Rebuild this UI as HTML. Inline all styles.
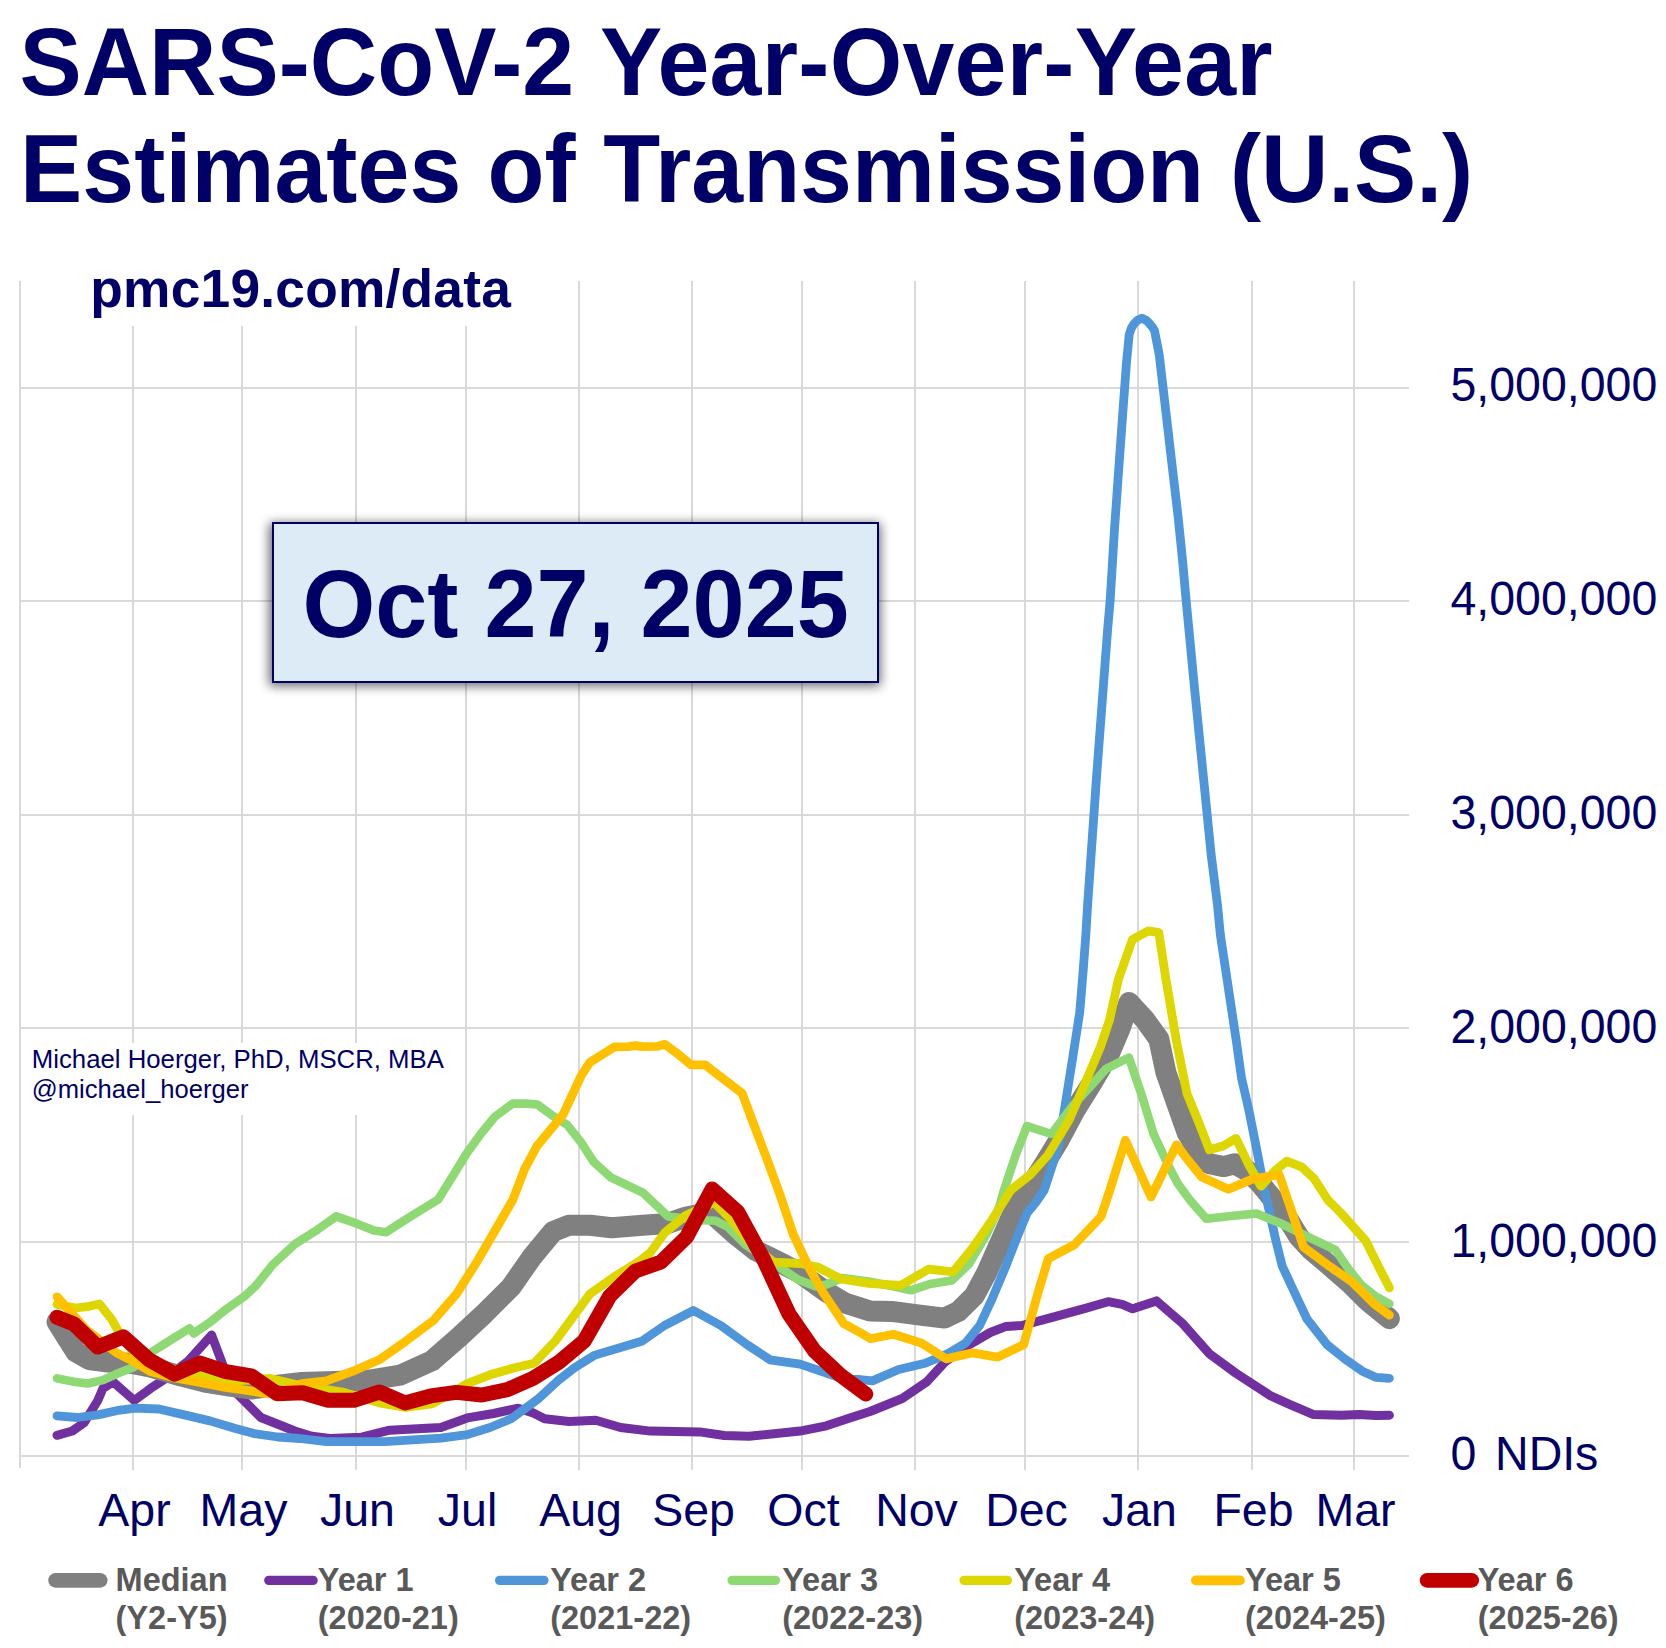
<!DOCTYPE html>
<html lang="en"><head><meta charset="utf-8"><title>SARS-CoV-2 Year-Over-Year Estimates of Transmission (U.S.)</title>
<style>
html,body{margin:0;padding:0;background:#fff;}
body{width:1666px;height:1648px;overflow:hidden;font-family:"Liberation Sans",sans-serif;}
svg{display:block;}
text{font-family:"Liberation Sans",sans-serif;}
.b{font-weight:bold;}
.nv{fill:#000066;}
.lg{fill:#595959;font-weight:bold;font-size:32.5px;}
</style></head><body>
<svg width="1666" height="1648" viewBox="0 0 1666 1648">
<defs><filter id="sh" x="-10%" y="-20%" width="120%" height="140%"><feGaussianBlur stdDeviation="5.5"/></filter></defs>
<rect width="1666" height="1648" fill="#fff"/>

<g stroke="#D9D9D9" stroke-width="2" fill="none">
<line x1="20.0" y1="281" x2="20.0" y2="1468"/>
<line x1="133.0" y1="281" x2="133.0" y2="1470"/>
<line x1="242.0" y1="281" x2="242.0" y2="1470"/>
<line x1="356.0" y1="281" x2="356.0" y2="1470"/>
<line x1="466.0" y1="281" x2="466.0" y2="1470"/>
<line x1="579.0" y1="281" x2="579.0" y2="1470"/>
<line x1="692.0" y1="281" x2="692.0" y2="1470"/>
<line x1="802.0" y1="281" x2="802.0" y2="1470"/>
<line x1="915.0" y1="281" x2="915.0" y2="1470"/>
<line x1="1025.0" y1="281" x2="1025.0" y2="1470"/>
<line x1="1138.0" y1="281" x2="1138.0" y2="1470"/>
<line x1="1252.0" y1="281" x2="1252.0" y2="1470"/>
<line x1="1354.0" y1="281" x2="1354.0" y2="1470"/>
<line x1="19" y1="388.0" x2="1409" y2="388.0"/>
<line x1="19" y1="601.0" x2="1409" y2="601.0"/>
<line x1="19" y1="815.0" x2="1409" y2="815.0"/>
<line x1="19" y1="1028.0" x2="1409" y2="1028.0"/>
<line x1="19" y1="1242.0" x2="1409" y2="1242.0"/>
<line x1="19" y1="1456.0" x2="1409" y2="1456.0"/>
</g>
<rect x="85" y="245" width="440" height="81" fill="#fff"/>
<rect x="25" y="1043" width="425" height="72" fill="#fff"/>
<text class="b nv" transform="translate(19.5,94.8) scale(1,1.025)" font-size="93.3">SARS-CoV-2 <tspan letter-spacing="0.26">Year-Over-Year</tspan></text>
<text class="b nv" transform="translate(20,202.1) scale(1,1.025)" font-size="93.3"><tspan letter-spacing="0.07">Estimates of </tspan><tspan dx="1.7" letter-spacing="-0.06">Transmission (U.S.)</tspan></text>
<text class="b nv" x="90.3" y="306.5" font-size="53.3" letter-spacing="0.22">pmc19.com/data</text>
<text class="nv" x="31.8" y="1067.8" font-size="25.75">Michael Hoerger, PhD, MSCR, MBA</text>
<text class="nv" x="31.8" y="1097.8" font-size="25.6">@michael_hoerger</text>
<polyline fill="none" stroke="#7030A0" stroke-width="9.0" stroke-linejoin="round" stroke-linecap="round" points="57.0,1435.3 72.3,1431.0 84.2,1422.6 97.8,1400.5 102.9,1388.6 113.1,1381.8 134.3,1400.5 150.4,1388.6 165.7,1378.4 187.8,1361.4 211.6,1335.1 223.5,1366.5 235.4,1392.0 260.9,1417.5 277.9,1424.3 294.8,1431.0 311.8,1436.2 330.0,1438.5 361.6,1437.2 389.7,1430.2 440.8,1427.5 467.2,1417.9 493.6,1413.5 518.2,1408.2 532.3,1412.6 544.6,1418.8 569.2,1421.4 595.8,1420.2 620.5,1427.5 650.4,1431.1 699.7,1431.9 724.3,1435.5 748.9,1436.3 800.0,1431.1 826.4,1425.8 847.5,1418.8 870.0,1411.5 902.2,1398.5 926.9,1381.8 944.5,1362.4 969.1,1344.8 990.2,1332.5 1006.0,1326.4 1021.9,1325.5 1044.8,1319.3 1083.5,1308.8 1108.1,1301.7 1122.2,1304.4 1132.7,1308.8 1156.4,1300.9 1182.8,1323.7 1209.2,1353.6 1235.6,1373.0 1270.8,1395.9 1288.4,1403.8 1313.0,1414.4 1341.2,1415.2 1358.8,1414.4 1376.3,1415.6 1389.4,1415.2"/>
<polyline fill="none" stroke="#808080" stroke-width="21" stroke-linejoin="round" stroke-linecap="round" points="57.0,1322.0 67.0,1338.0 76.0,1352.0 89.0,1359.5 108.0,1362.0 132.0,1363.5 150.0,1367.0 175.6,1374.5 208.0,1382.7 229.6,1386.0 252.0,1389.0 280.0,1385.0 300.0,1382.6 335.0,1381.5 370.0,1380.0 400.0,1375.2 432.0,1360.7 458.4,1337.8 484.8,1313.2 511.2,1286.8 532.0,1257.0 553.1,1231.5 568.9,1225.2 590.0,1225.2 611.7,1227.8 642.8,1225.2 667.5,1223.5 685.6,1217.3 710.2,1212.0 734.8,1234.0 756.0,1250.7 780.8,1263.0 800.0,1273.0 826.4,1292.0 845.0,1303.0 870.0,1311.0 891.7,1311.4 918.0,1314.9 944.5,1318.1 958.5,1311.4 974.4,1295.6 986.7,1272.7 1000.8,1241.0 1013.1,1212.9 1025.4,1193.5 1044.5,1164.0 1058.5,1141.1 1074.4,1111.2 1092.0,1083.0 1109.6,1053.1 1120.1,1028.5 1128.9,1002.5 1144.8,1019.7 1158.8,1039.0 1165.9,1072.4 1176.4,1102.4 1187.0,1132.3 1201.1,1156.9 1208.5,1163.5 1223.8,1166.6 1234.8,1163.8 1247.6,1171.0 1259.5,1182.9 1272.0,1198.0 1285.0,1214.3 1299.0,1237.0 1311.0,1250.0 1323.6,1260.4 1350.0,1283.3 1367.6,1300.9 1389.4,1318.7"/>
<polyline fill="none" stroke="#4E95D9" stroke-width="8.8" stroke-linejoin="round" stroke-linecap="round" points="57.0,1415.8 77.4,1417.5 97.8,1414.9 116.5,1410.7 135.1,1408.1 158.9,1409.0 184.4,1414.9 209.9,1420.9 235.4,1428.5 254.1,1433.6 277.9,1437.0 300.0,1438.5 326.4,1441.6 384.5,1441.6 440.8,1438.1 467.2,1434.6 490.0,1427.5 511.2,1418.8 537.5,1399.4 558.7,1380.0 574.5,1367.7 594.1,1355.4 641.6,1341.3 664.5,1325.5 693.5,1310.5 720.8,1325.5 747.2,1344.8 770.0,1359.8 800.0,1364.2 826.4,1373.0 843.9,1379.2 860.0,1379.5 872.3,1380.9 898.7,1369.5 925.1,1363.3 948.0,1353.6 965.6,1343.1 979.7,1325.5 992.0,1299.1 1006.0,1265.7 1018.4,1234.0 1027.2,1212.9 1036.0,1202.3 1044.3,1190.0 1058.5,1146.3 1065.6,1102.4 1072.6,1058.4 1079.7,1012.6 1083.2,970.4 1085.8,935.2 1087.6,905.0 1096.4,778.9 1107.7,628.5 1110.2,600.0 1114.6,527.6 1119.1,463.8 1122.8,412.9 1126.4,363.7 1129.2,334.6 1131.2,328.5 1133.7,324.3 1137.5,320.3 1141.9,318.2 1146.5,320.5 1150.1,324.3 1152.8,327.5 1154.6,331.0 1159.2,354.6 1165.6,409.2 1171.9,463.8 1178.3,518.5 1182.9,564.0 1186.1,600.0 1194.2,684.9 1203.6,778.9 1211.1,854.1 1217.5,905.0 1220.4,935.2 1225.7,970.4 1231.0,1005.6 1236.3,1040.8 1241.5,1078.0 1248.9,1110.3 1256.5,1148.3 1264.1,1188.0 1271.2,1220.0 1276.0,1241.0 1282.2,1266.0 1294.5,1292.5 1307.0,1319.0 1327.1,1344.8 1344.7,1358.9 1362.3,1371.2 1376.3,1377.4 1389.4,1378.3"/>
<polyline fill="none" stroke="#8ED973" stroke-width="8.6" stroke-linejoin="round" stroke-linecap="round" points="57.0,1378.4 74.0,1381.8 87.6,1383.5 102.9,1380.1 118.2,1373.3 133.4,1367.3 150.4,1352.9 169.1,1341.0 189.5,1328.3 193.8,1333.4 209.9,1322.3 226.9,1308.7 243.9,1296.8 255.8,1285.8 272.8,1264.6 294.8,1244.2 317.6,1229.6 336.1,1216.4 356.3,1223.4 373.9,1230.5 386.2,1232.2 409.1,1217.3 438.0,1199.7 452.8,1176.0 466.9,1153.1 480.9,1133.7 495.0,1116.6 512.6,1103.6 527.0,1103.6 537.3,1104.5 551.3,1114.8 567.2,1124.9 581.2,1142.5 593.6,1161.9 611.2,1177.7 642.8,1192.7 656.9,1205.9 668.0,1216.4 684.0,1218.2 703.3,1220.3 715.7,1220.8 728.0,1227.0 745.6,1244.6 772.0,1262.2 798.4,1279.8 816.0,1286.5 826.4,1284.5 842.4,1278.0 868.7,1281.5 895.1,1286.8 911.0,1290.3 930.0,1284.0 951.5,1280.6 969.1,1263.9 986.7,1234.0 999.0,1207.6 1004.0,1190.0 1016.3,1153.4 1026.9,1126.1 1051.5,1134.0 1072.6,1105.9 1090.2,1086.5 1106.0,1068.9 1128.9,1057.5 1141.2,1093.6 1153.6,1134.0 1167.6,1164.0 1177.6,1183.2 1189.7,1199.8 1206.4,1218.8 1233.7,1215.8 1256.5,1213.5 1282.3,1224.1 1306.5,1236.2 1335.4,1249.9 1349.0,1269.6 1361.1,1284.8 1376.3,1296.9 1389.4,1303.8"/>
<polyline fill="none" stroke="#DDD600" stroke-width="8.8" stroke-linejoin="round" stroke-linecap="round" points="57.0,1304.4 75.7,1308.0 89.3,1306.3 99.5,1304.0 111.4,1318.9 119.9,1334.0 133.0,1352.0 150.0,1362.0 175.0,1370.0 201.4,1375.8 227.0,1381.0 250.0,1380.0 269.4,1378.4 294.8,1384.3 320.0,1388.6 344.0,1392.4 379.2,1402.9 405.6,1407.3 432.0,1403.8 449.6,1394.1 467.2,1383.6 490.0,1374.8 514.7,1367.7 534.0,1363.3 555.1,1341.3 574.5,1314.9 590.0,1293.8 615.2,1276.2 638.1,1262.1 650.4,1252.5 664.5,1233.0 685.6,1215.5 713.9,1202.4 731.5,1220.0 750.0,1243.0 773.7,1262.2 800.0,1263.5 817.6,1267.0 841.0,1279.0 868.7,1283.3 900.5,1285.5 928.6,1269.2 953.3,1271.8 972.6,1248.1 992.0,1219.9 1011.0,1190.0 1030.4,1174.5 1048.0,1155.1 1069.1,1120.0 1086.7,1079.5 1100.8,1046.0 1109.6,1019.7 1118.4,979.2 1132.4,939.6 1148.3,930.8 1158.8,932.6 1165.9,979.2 1176.4,1040.8 1187.0,1093.6 1198.8,1122.5 1209.4,1149.8 1223.1,1146.0 1236.0,1138.4 1248.9,1165.0 1261.0,1186.2 1274.7,1171.0 1286.8,1161.2 1302.0,1167.2 1314.1,1178.6 1327.8,1199.8 1341.4,1213.5 1365.7,1240.8 1377.8,1265.1 1389.4,1287.8"/>
<polyline fill="none" stroke="#FFC000" stroke-width="8.8" stroke-linejoin="round" stroke-linecap="round" points="57.0,1296.8 74.6,1316.5 86.0,1329.5 98.0,1338.5 116.5,1352.9 133.4,1361.4 150.4,1371.6 175.0,1378.0 201.4,1382.6 226.9,1387.7 252.4,1391.1 266.0,1393.7 285.0,1390.0 302.0,1383.6 326.4,1380.9 352.8,1371.2 379.2,1359.8 405.6,1341.3 433.7,1320.2 456.6,1293.8 476.8,1262.0 494.8,1231.0 512.7,1200.0 524.7,1168.9 537.0,1146.0 563.2,1114.4 581.2,1075.7 590.0,1062.2 614.7,1046.8 628.0,1046.6 635.5,1045.6 642.0,1046.6 656.9,1046.4 664.8,1044.3 678.4,1054.4 691.0,1064.8 705.1,1064.8 719.2,1075.7 742.1,1093.3 752.6,1121.4 766.7,1158.4 780.8,1197.1 793.1,1234.0 808.9,1267.5 822.8,1292.1 843.9,1323.7 860.0,1332.5 870.6,1338.7 893.4,1334.3 921.6,1343.1 946.2,1358.9 972.6,1352.8 997.3,1357.2 1023.6,1344.8 1037.7,1293.8 1048.3,1258.6 1074.7,1244.5 1101.1,1216.4 1109.9,1190.0 1125.4,1140.2 1137.7,1167.5 1151.0,1197.0 1176.6,1144.8 1188.2,1160.4 1201.9,1177.1 1228.4,1189.2 1253.4,1178.6 1279.2,1174.8 1291.4,1210.5 1303.5,1246.9 1327.8,1265.1 1352.0,1281.8 1374.8,1304.5 1389.4,1315.1"/>
<polyline fill="none" stroke="#C00000" stroke-width="15" stroke-linejoin="round" stroke-linecap="round" points="57.0,1317.2 74.0,1324.0 97.8,1347.0 123.4,1336.8 149.0,1359.7 174.6,1374.1 200.2,1363.1 225.8,1371.6 251.4,1375.8 277.0,1393.7 302.6,1392.8 328.2,1400.3 353.8,1400.3 379.4,1392.0 405.0,1402.9 430.6,1395.9 456.2,1392.4 481.8,1395.0 507.4,1389.7 533.0,1378.3 558.6,1362.4 584.2,1341.0 609.8,1296.0 635.4,1271.0 661.0,1262.0 686.6,1237.0 712.2,1189.0 737.8,1212.0 763.4,1259.0 789.0,1314.0 814.6,1351.0 840.2,1375.0 865.8,1394.0"/>
<rect x="269" y="523" width="611.5" height="163" fill="#000" opacity="0.58" filter="url(#sh)"/>
<rect x="273" y="523" width="605" height="159" fill="#DDEBF7" stroke="#000066" stroke-width="2"/>
<text class="b nv" transform="translate(302.4,637.0) scale(1,1.035)" font-size="93.6">Oct 27, 2025</text>
<text class="nv" transform="translate(1450.5,401.2) scale(1,1.05)" font-size="46.5">5,000,000</text>
<text class="nv" transform="translate(1450.5,615.0) scale(1,1.05)" font-size="46.5">4,000,000</text>
<text class="nv" transform="translate(1450.5,828.8) scale(1,1.05)" font-size="46.5">3,000,000</text>
<text class="nv" transform="translate(1450.5,1042.6) scale(1,1.05)" font-size="46.5">2,000,000</text>
<text class="nv" transform="translate(1450.5,1256.5) scale(1,1.05)" font-size="46.5">1,000,000</text>
<text class="nv" transform="translate(1450.5,1470.0) scale(1,1.05)" font-size="46.5">0 <tspan dx="5.8">NDIs</tspan></text>
<text class="nv" x="134.5" y="1525.5" font-size="46.5" text-anchor="middle">Apr</text>
<text class="nv" x="243.5" y="1525.5" font-size="46.5" text-anchor="middle">May</text>
<text class="nv" x="357.5" y="1525.5" font-size="46.5" text-anchor="middle">Jun</text>
<text class="nv" x="467.5" y="1525.5" font-size="46.5" text-anchor="middle">Jul</text>
<text class="nv" x="580.5" y="1525.5" font-size="46.5" text-anchor="middle">Aug</text>
<text class="nv" x="693.5" y="1525.5" font-size="46.5" text-anchor="middle">Sep</text>
<text class="nv" x="803.5" y="1525.5" font-size="46.5" text-anchor="middle">Oct</text>
<text class="nv" x="916.5" y="1525.5" font-size="46.5" text-anchor="middle">Nov</text>
<text class="nv" x="1026.5" y="1525.5" font-size="46.5" text-anchor="middle">Dec</text>
<text class="nv" x="1139.5" y="1525.5" font-size="46.5" text-anchor="middle">Jan</text>
<text class="nv" x="1253.5" y="1525.5" font-size="46.5" text-anchor="middle">Feb</text>
<text class="nv" x="1355.5" y="1525.5" font-size="46.5" text-anchor="middle">Mar</text>
<line x1="55.6" y1="1580.4" x2="100.2" y2="1580.4" stroke="#808080" stroke-width="14.7" stroke-linecap="round"/>
<text class="lg" x="115.6" y="1590.5">Median</text>
<text class="lg" x="115.6" y="1628.5">(Y2-Y5)</text>
<line x1="268.8" y1="1580.4" x2="313.1" y2="1580.4" stroke="#7030A0" stroke-width="9.3" stroke-linecap="round"/>
<text class="lg" x="317.8" y="1590.5">Year 1</text>
<text class="lg" x="317.8" y="1628.5">(2020-21)</text>
<line x1="499.6" y1="1580.4" x2="543.9" y2="1580.4" stroke="#4E95D9" stroke-width="9.3" stroke-linecap="round"/>
<text class="lg" x="550.2" y="1590.5">Year 2</text>
<text class="lg" x="550.2" y="1628.5">(2021-22)</text>
<line x1="732.1" y1="1580.4" x2="775.4" y2="1580.4" stroke="#8ED973" stroke-width="9.3" stroke-linecap="round"/>
<text class="lg" x="782.2" y="1590.5">Year 3</text>
<text class="lg" x="782.2" y="1628.5">(2022-23)</text>
<line x1="964.1" y1="1580.4" x2="1007.4" y2="1580.4" stroke="#DDD600" stroke-width="9.3" stroke-linecap="round"/>
<text class="lg" x="1014.2" y="1590.5">Year 4</text>
<text class="lg" x="1014.2" y="1628.5">(2023-24)</text>
<line x1="1195.8" y1="1580.4" x2="1240.0" y2="1580.4" stroke="#FFC000" stroke-width="9.6" stroke-linecap="round"/>
<text class="lg" x="1245.0" y="1590.5">Year 5</text>
<text class="lg" x="1245.0" y="1628.5">(2024-25)</text>
<line x1="1427.1" y1="1580.4" x2="1471.7" y2="1580.4" stroke="#C00000" stroke-width="14.7" stroke-linecap="round"/>
<text class="lg" x="1477.7" y="1590.5">Year 6</text>
<text class="lg" x="1477.7" y="1628.5">(2025-26)</text>
</svg></body></html>
